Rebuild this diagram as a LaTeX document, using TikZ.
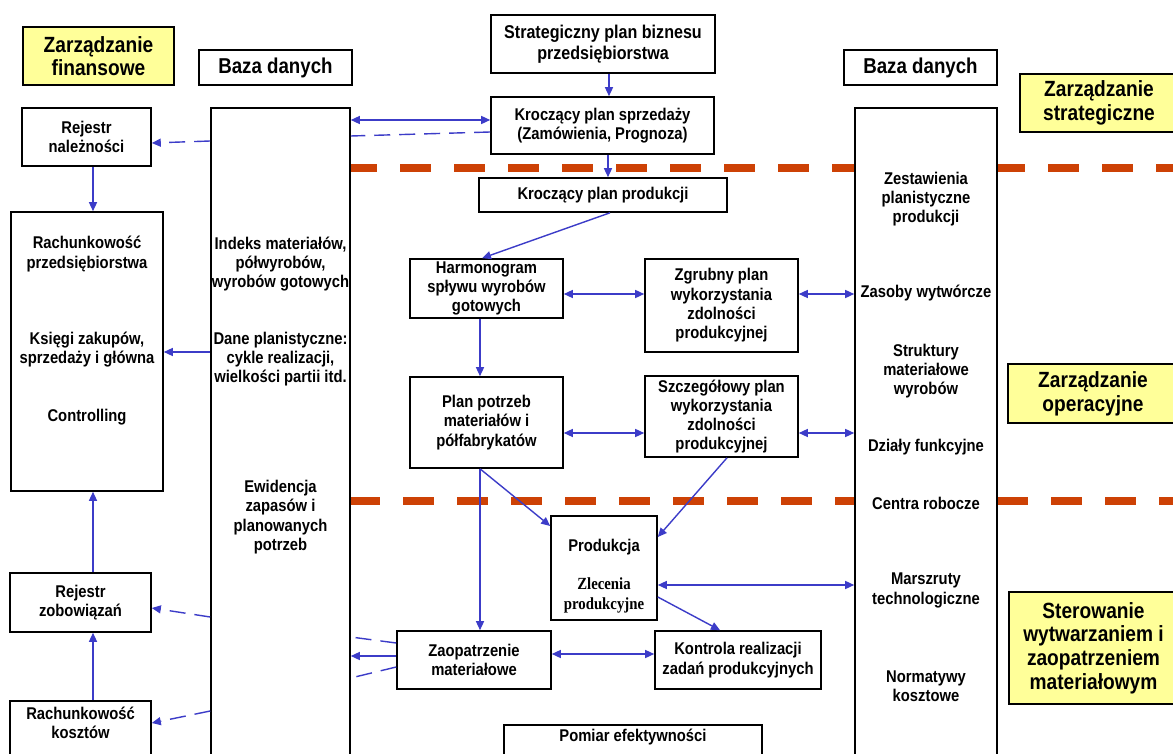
\documentclass[tikz,border=0pt]{standalone}
\usepackage{fontspec}
\setmainfont[FakeStretch=0.87]{Liberation Sans}
\newfontfamily\zlserif[FakeStretch=0.87]{Liberation Serif}
\usetikzlibrary{arrows.meta,calc}
\definecolor{blu}{RGB}{60,60,200}
\definecolor{redd}{RGB}{205,65,5}
\definecolor{yel}{RGB}{255,255,153}
\newcommand\mybodyfont{\fontsize{17}{19.3}\selectfont\bfseries}
\newcommand\myheadfont{\fontsize{21.5}{24}\selectfont\bfseries}
\newcommand\myyelfont{\fontsize{22}{23.7}\selectfont\bfseries}
\begin{document}
\begin{tikzpicture}[x=1pt,y=-1pt,
  box/.style={draw=black, line width=1.6pt, fill=white, inner sep=0pt, align=center, font=\mybodyfont},
  head/.style={box, font=\myheadfont},
  yelbox/.style={box, fill=yel, font=\myyelfont},
  txt/.style={inner sep=0pt, align=center, font=\mybodyfont},
  arr/.style={draw=blu, line width=1.4pt, -{Triangle[length=9pt,width=8pt]}},
  darr/.style={draw=blu, line width=1.4pt, {Triangle[length=9pt,width=8pt]}-{Triangle[length=9pt,width=8pt]}},
  dline/.style={draw=blu, line width=1.4pt, dash pattern=on 16pt off 9pt},
  sepline/.style={draw=redd, line width=8pt, dash pattern=on 31pt off 23pt}
]
\useasboundingbox (0,0) rectangle (1173,754);
\clip (0,0) rectangle (1173,754);
\fill[white] (0,0) rectangle (1173,754);

% separators
\draw[sepline] (346,168) -- (1180,168);
\draw[sepline] (349,501) -- (1180,501);

% headers
\node[yelbox, minimum width=151, minimum height=58] (zf) at (98.5,56) {Zarządzanie\\finansowe};
\node[head, minimum width=153, minimum height=35] (bazaL) at (275.5,67.5) {Baza danych};
\node[head, minimum width=153, minimum height=35] (bazaR) at (920.5,67.5) {Baza danych};
\node[yelbox, minimum width=158, minimum height=58] (zs) at (1099,103) {Zarządzanie\\strategiczne};
\node[yelbox, minimum width=170, minimum height=59] (zo) at (1093,393.5) {Zarządzanie\\operacyjne};
\node[yelbox, minimum width=169, minimum height=112] (sw) at (1093.5,648) {Sterowanie\\wytwarzaniem i\\zaopatrzeniem\\materiałowym};

% database columns
\node[box, minimum width=139, minimum height=664] (dbL) at (280.5,440) {};
\node[txt] (dbL1) at (280.5,264) {Indeks materiałów,\\półwyrobów,\\wyrobów gotowych};
\node[txt] (dbL2) at (280.5,359) {Dane planistyczne:\\cykle realizacji,\\wielkości partii itd.};
\node[txt] (dbL3) at (280.5,517) {Ewidencja\\zapasów i\\planowanych\\potrzeb};

\node[box, minimum width=142, minimum height=664] (dbR) at (926,440) {};
\node[txt] (dbR1) at (926,199) {Zestawienia\\planistyczne\\produkcji};
\node[txt] (dbR2) at (926,293) {Zasoby wytwórcze};
\node[txt] (dbR3) at (926,371) {Struktury\\materiałowe\\wyrobów};
\node[txt] (dbR4) at (926,447) {Działy funkcyjne};
\node[txt] (dbR5) at (926,503) {Centra robocze};
\node[txt] (dbR6) at (926,590.5) {Marszruty\\technologiczne};
\node[txt] (dbR7) at (926,686) {Normatywy\\kosztowe};

% left column
\node[box, minimum width=129, minimum height=58] (rn) at (86.5,137) {Rejestr\\należności};
\node[box, minimum width=152, minimum height=279] (rp) at (87,351.5) {};
\node[txt] (rpt1) at (87,254) {Rachunkowość\\przedsiębiorstwa};
\node[txt] (rpt2) at (87,349.5) {Księgi zakupów,\\sprzedaży i główna};
\node[txt] (rpt3) at (87,417) {Controlling};
\node[box, minimum width=141, minimum height=59] (rz) at (80.5,602.5) {Rejestr\\zobowiązań};
\node[box, minimum width=141, minimum height=70] (rk) at (80.5,736) {};
\node[txt] (rkt) at (80.5,722.5) {Rachunkowość\\kosztów};

% centre
\node[box, minimum width=224, minimum height=58, font=\fontsize{18.5}{21}\selectfont\bfseries] (sp) at (603,44) {Strategiczny plan biznesu\\przedsiębiorstwa};
\node[box, minimum width=223, minimum height=57] (ks) at (602.5,125.5) {Kroczący plan sprzedaży\\(Zamówienia, Prognoza)};
\node[box, minimum width=248, minimum height=34] (kp) at (603,195) {Kroczący plan produkcji};
\node[box, minimum width=153, minimum height=59] (hs) at (486.5,288.5) {Harmonogram\\spływu wyrobów\\gotowych};
\node[box, minimum width=153, minimum height=93] (zg) at (721.5,305.5) {Zgrubny plan\\wykorzystania\\zdolności\\produkcyjnej};
\node[box, minimum width=153, minimum height=91] (pp) at (486.5,422.5) {Plan potrzeb\\materiałów i\\półfabrykatów};
\node[box, minimum width=153, minimum height=81] (sz) at (721.5,416.5) {Szczegółowy plan\\wykorzystania\\zdolności\\produkcyjnej};
\node[box, minimum width=106, minimum height=104] (pr) at (604,568) {};
\node[txt] (prt1) at (604,547) {Produkcja};
\node[txt, font=\zlserif\fontsize{17}{19.3}\selectfont\bfseries] (prt2) at (604,595.5) {Zlecenia\\produkcyjne};
\node[box, minimum width=154, minimum height=58] (za) at (474,660) {Zaopatrzenie\\materiałowe};
\node[box, minimum width=166, minimum height=58] (ko) at (738,660) {Kontrola realizacji\\zadań produkcyjnych};
\node[box, minimum width=258, minimum height=50] (pe) at (633,750) {};
\node[txt] (pet) at (633,737) {Pomiar efektywności};

% helper coordinates
\coordinate (h120) at (0,120);
\coordinate (h132) at (0,132);
\coordinate (h136) at (0,136);
\coordinate (h141) at (0,141);
\coordinate (h143) at (0,143);
\coordinate (h294) at (0,294);
\coordinate (h352) at (0,352);
\coordinate (h433) at (0,433);
\coordinate (h526) at (0,526);
\coordinate (h537) at (0,537);
\coordinate (h585) at (0,585);
\coordinate (h597) at (0,597);
\coordinate (h608) at (0,608);
\coordinate (h617) at (0,617);
\coordinate (h637) at (0,637);
\coordinate (h643) at (0,643);
\coordinate (h654) at (0,654);
\coordinate (h656) at (0,656);
\coordinate (h667) at (0,667);
\coordinate (h678) at (0,678);
\coordinate (h711) at (0,711);
\coordinate (h723) at (0,723);
\coordinate (v93) at (93,0);
\coordinate (v480) at (480,0);
\coordinate (v482) at (482,0);
\coordinate (v608) at (608,0);
\coordinate (v609) at (609,0);
\coordinate (v610) at (610,0);
\coordinate (v720) at (720,0);
\coordinate (v727) at (727,0);

% connectors
\draw[arr] (sp.south -| v609) -- (ks.north -| v609);
\draw[arr] (ks.south -| v608) -- (kp.north -| v608);
\draw[darr] (dbL.east |- h120) -- (ks.west |- h120);
\draw[dline] (ks.west |- h132) -- (dbL.east |- h136);
\draw[arr,dline] (dbL.west |- h141) -- (rn.east |- h143);
\draw[arr] (rn.south -| v93) -- (rp.north -| v93);
\draw[arr] (dbL.west |- h352) -- (rp.east |- h352);
\draw[arr] (rz.north -| v93) -- (rp.south -| v93);
\draw[arr] (rk.north -| v93) -- (rz.south -| v93);
\draw[arr,dline] (dbL.west |- h617) -- (rz.east |- h608);
\draw[arr,dline] (dbL.west |- h711) -- (rk.east |- h723);
\draw[arr] (kp.south -| v610) -- (hs.north -| v482);
\draw[darr] (hs.east |- h294) -- (zg.west |- h294);
\draw[darr] (zg.east |- h294) -- (dbR.west |- h294);
\draw[arr] (hs.south -| v480) -- (pp.north -| v480);
\draw[darr] (pp.east |- h433) -- (sz.west |- h433);
\draw[darr] (sz.east |- h433) -- (dbR.west |- h433);
\draw[arr] (pp.south -| v480) -- (za.north -| v480);
\draw[arr] (pp.south -| v480) -- (pr.west |- h526);
\draw[arr] (sz.south -| v727) -- (pr.east |- h537);
\draw[darr] (pr.east |- h585) -- (dbR.west |- h585);
\draw[arr] (pr.east |- h597) -- (ko.north -| v720);
\draw[darr] (za.east |- h654) -- (ko.west |- h654);
\draw[dline] (za.west |- h643) -- (dbL.east |- h637);
\draw[arr] (za.west |- h656) -- (dbL.east |- h656);
\draw[dline] (za.west |- h667) -- (dbL.east |- h678);
\end{tikzpicture}
\end{document}
